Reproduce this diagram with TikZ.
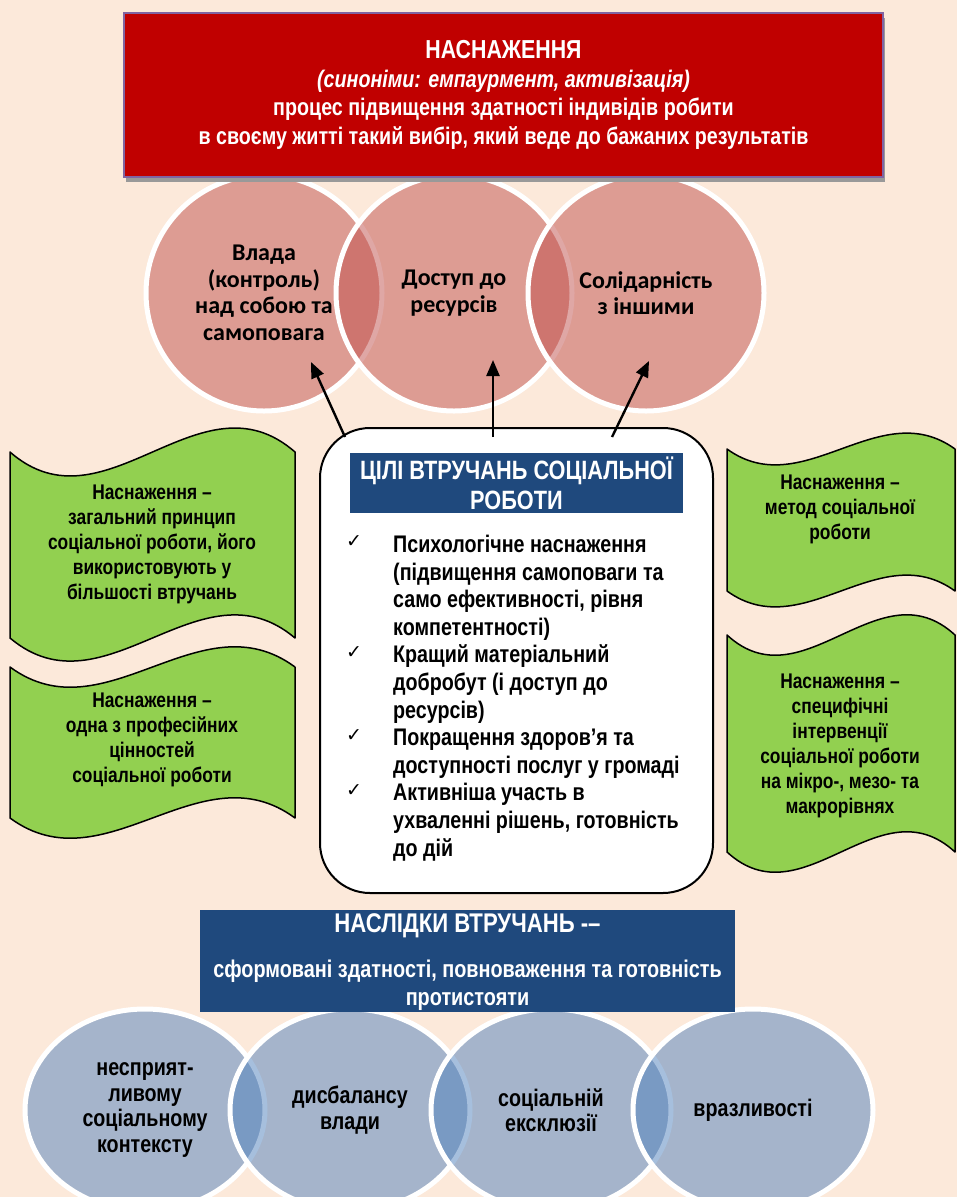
\documentclass[tikz,border=0pt]{standalone}
\usepackage{fontspec}
\setmainfont{Liberation Sans}
\newfontfamily\nar[FakeStretch=0.82]{Liberation Sans}
\newfontfamily\calib{Carlito}
\newfontfamily\dvs{DejaVu Sans}
\usetikzlibrary{arrows.meta,shapes.geometric,shadows}
\definecolor{bg}{RGB}{252,233,218}
\definecolor{redbox}{RGB}{192,0,0}
\definecolor{redbord}{RGB}{128,100,162}
\definecolor{cred}{RGB}{192,80,77}
\definecolor{cblue}{RGB}{79,129,189}
\definecolor{navy}{RGB}{31,73,125}
\definecolor{leaf}{RGB}{146,208,80}
\tikzset{
  topcirc/.style={circle, minimum size=236pt, inner sep=0pt, fill=cred, fill opacity=0.5, text opacity=1, draw=white, line width=5pt, align=center, font=\calib\bfseries\fontsize{24}{26.5}\selectfont},
  botell/.style={ellipse, minimum width=240pt, minimum height=202pt, inner sep=0pt, fill=cblue, fill opacity=0.5, text opacity=1, draw=white, line width=5pt, align=center, font=\nar\bfseries\fontsize{24}{25.5}\selectfont},
  wavebox/.style={fill=leaf, draw=black, line width=1.5pt, line join=round},
  wavetext/.style={align=center, font=\nar\bfseries\fontsize{21.2}{25}\selectfont},
  navybox/.style={rectangle, fill=navy, inner sep=0pt, text=white, align=center},
  chk/.style={font=\dvs\fontsize{19}{19}\selectfont},
  arr/.style={line width=2.4pt, -{Triangle[length=16pt,width=13pt]}}
}
\begin{document}
\begin{tikzpicture}[x=1pt,y=-1pt]
\path[fill=bg] (0,0) rectangle (957,1197);
\useasboundingbox (0,0) rectangle (957,1197);

% top circles
\node[topcirc] (c1) at (264,293) {Влада\\(контроль)\\над собою та\\самоповага};
\node[topcirc] (c2) at (454,293) {Доступ до\\ресурсів};
\node[topcirc] (c3) at (646,293) {Солідарність\\з іншими};

% red header
\node[rectangle, fill=redbox, draw=redbord, line width=1.5pt, minimum width=759pt, minimum height=164pt, inner sep=0pt,
  drop shadow={shadow xshift=2pt, shadow yshift=-5pt, fill=gray!80, opacity=1},
  text=white, align=center, font=\nar\bfseries\fontsize{24}{28.7}\selectfont] (head) at (503.5,95)
  {{\fontsize{26}{28.7}\selectfont НАСНАЖЕННЯ}\\
   {\itshape (синоніми: емпаурмент, активізація)}\\
   процес підвищення здатності індивідів робити\\
   в своєму житті такий вибір, який веде до бажаних результатів};

% green waves
\draw[wavebox] (10,452) .. controls (105,535) and (200,369) .. (295,452) -- (295,638) .. controls (200,558) and (105,718) .. (10,638) -- cycle;
\node[wavetext] (g1) at (152,544) {Наснаження –\\загальний принцип\\соціальної роботи, його\\використовують у\\більшості втручань};
\draw[wavebox] (10,667) .. controls (105,737) and (200,597) .. (295,667) -- (295,818) .. controls (200,748) and (105,888) .. (10,818) -- cycle;
\node[wavetext] (g2) at (152,740) {Наснаження –\\одна з професійних\\цінностей\\соціальної роботи};
\draw[wavebox] (727,449) .. controls (803,504) and (879,394) .. (955,449) -- (955,591) .. controls (879,536) and (803,646) .. (727,591) -- cycle;
\node[wavetext] (g3) at (840,509) {Наснаження –\\метод соціальної\\роботи};
\draw[wavebox] (727,635) .. controls (803,705) and (879,565) .. (955,635) -- (955,852) .. controls (879,782) and (803,922) .. (727,852) -- cycle;
\node[wavetext] (g4) at (840,746) {Наснаження –\\специфічні\\інтервенції\\соціальної роботи\\на мікро-, мезо- та\\макрорівнях};

% centre box
\node[rectangle, rounded corners=50pt, fill=white, draw=black, line width=2pt, minimum width=393pt, minimum height=465pt, inner sep=0pt] (goals) at (516.5,660.5) {};
\node[navybox, minimum width=333pt, minimum height=60pt, font=\nar\bfseries\fontsize{26.5}{30}\selectfont] (gtitle) at (516.5,483) {ЦІЛІ ВТРУЧАНЬ СОЦІАЛЬНОЇ\\РОБОТИ};
\node[anchor=west, align=left, inner sep=0pt, font=\nar\bfseries\fontsize{24}{27.6}\selectfont] (glist) at (393,698)
 {Психологічне наснаження\\(підвищення самоповаги та\\само ефективності, рівня\\компетентності)\\Кращий матеріальний\\добробут (і доступ до\\ресурсів)\\Покращення здоров’я та\\доступності послуг у громаді\\Активніша участь в\\ухваленні рішень, готовність\\до дій};
\node[chk] (k1) at (354,542) {✓};
\node[chk] (k2) at (354,653) {✓};
\node[chk] (k3) at (354,736) {✓};
\node[chk] (k4) at (354,791) {✓};

% arrows
\coordinate (s1) at (345,437); \coordinate (e1) at (311,362);
\coordinate (s2) at (493,437); \coordinate (e2) at (493,360);
\coordinate (s3) at (612,437); \coordinate (e3) at (649,361);
\draw[arr] (s1) -- (e1);
\draw[arr] (s2) -- (e2);
\draw[arr] (s3) -- (e3);

% bottom ellipses
\node[botell] (b1) at (145,1110) {несприят-\\ливому\\соціальному\\контексту};
\node[botell] (b2) at (350,1110) {дисбалансу\\влади};
\node[botell] (b3) at (551,1110) {соціальній\\ексклюзії};
\node[botell] (b4) at (753,1110) {вразливості};

% bottom navy box
\node[navybox, minimum width=535pt, minimum height=102pt] (res) at (467.5,961) {};
\node[text=white, font=\nar\bfseries\fontsize{27}{28}\selectfont] (rt) at (467.5,926) {НАСЛІДКИ ВТРУЧАНЬ -–};
\node[text=white, align=center, font=\nar\bfseries\fontsize{24.2}{28}\selectfont] (rb) at (467.5,985) {сформовані здатності, повноваження та готовність\\протистояти};
\end{tikzpicture}
\end{document}
